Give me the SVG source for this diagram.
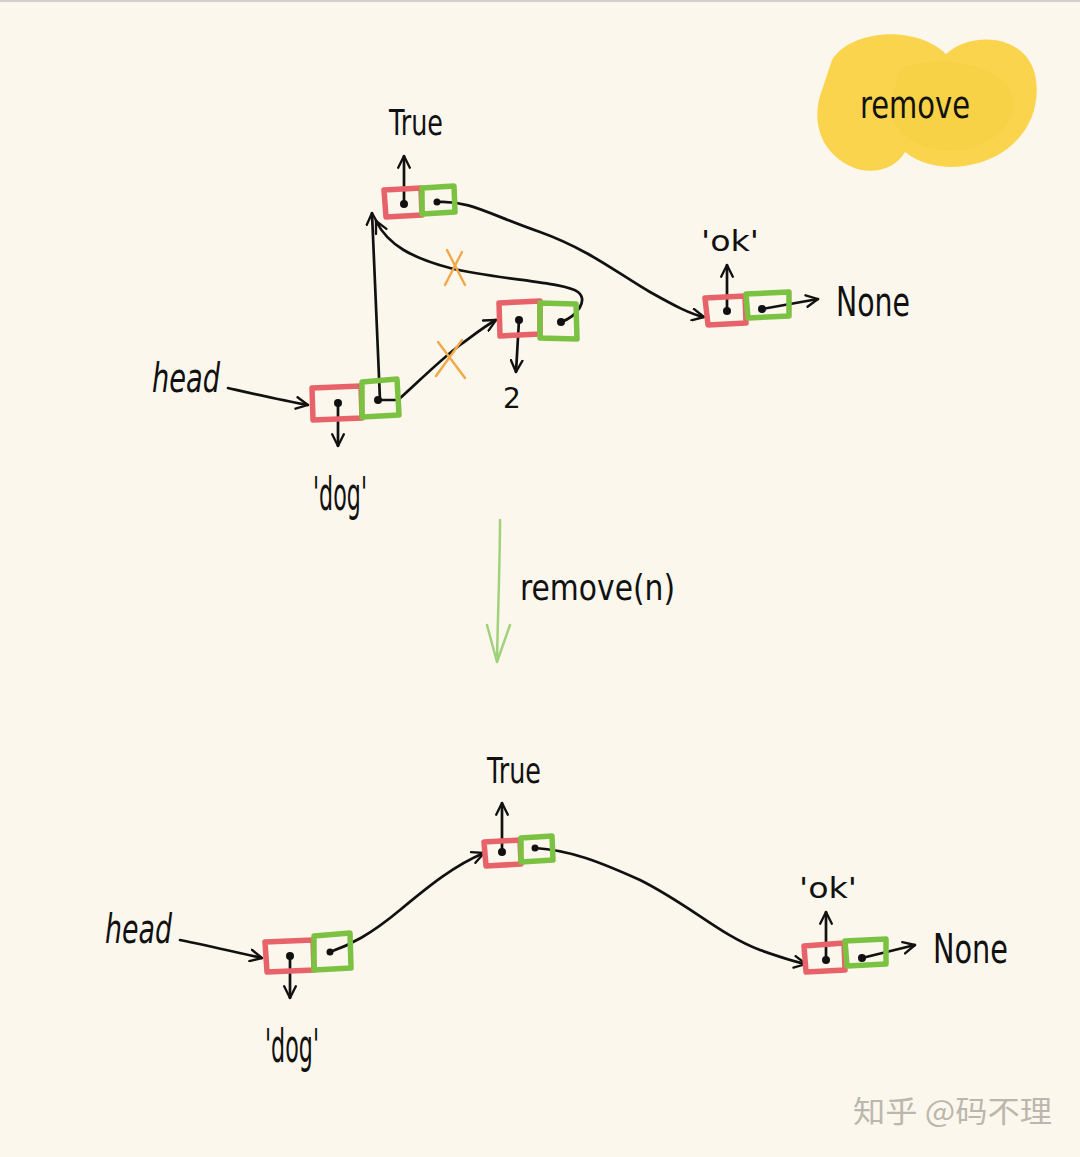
<svg xmlns="http://www.w3.org/2000/svg" width="1080" height="1157" viewBox="0 0 1080 1157">
<defs>
<marker id="arr" viewBox="0 0 12 12" refX="11" refY="6" markerWidth="14" markerHeight="14" orient="auto" markerUnits="userSpaceOnUse">
<path d="M1,1 L11,6 L1,11" fill="none" stroke="#111" stroke-width="2" stroke-linecap="round" stroke-linejoin="round"/>
</marker>
<style>
.bg{fill:#fcf7ed}
.red{fill:none;stroke:#e8626a;stroke-width:5.5;stroke-linejoin:round}
.grn{fill:none;stroke:#7cc242;stroke-width:5.5;stroke-linejoin:round}
.ln{fill:none;stroke:#111;stroke-width:2.7;stroke-linecap:round;stroke-linejoin:round}
.arr{marker-end:url(#arr)}
.dot{fill:#111}
.x{stroke:#f0a848;stroke-width:2.4;stroke-linecap:round}
.t{font-family:"DejaVu Sans","Liberation Sans",sans-serif;fill:#111}
.wm{font-family:"Noto Sans CJK SC","Noto Sans",sans-serif;fill:#bcb7ae}
</style>
</defs>
<rect class="bg" x="0" y="0" width="1080" height="1157"/>
<rect x="0" y="0" width="1080" height="2" fill="#cfcfcf"/>

<g id="title">
<path d="M832,60 C850,30 915,24 946,54 C972,30 1030,34 1036,80 C1042,122 1012,160 964,166 C935,170 915,160 905,152 C895,170 870,176 850,166 C822,152 812,125 820,96 Z" fill="#f9d44c"/>
<path d="M900,70 C930,55 990,60 1010,90 C1025,120 990,150 950,150 C915,150 890,130 890,105 Z" fill="#f6ce40" opacity="0.5"/>
<text class="t" x="860" y="118" font-size="38" textLength="110" lengthAdjust="spacingAndGlyphs">remove</text>
</g>

<g id="connectors">
<!-- top -->
<path class="ln arr" d="M228,388 C250,393 280,400 308,405"/>
<path class="ln arr" d="M437,202 C470,200 490,215 540,232 C590,250 620,275 650,292 C675,306 690,314 704,317"/>
<path class="ln arr" d="M380,400 L372,213"/>
<path class="ln arr" d="M561,322 C578,316 588,300 578,292 C565,282 500,280 450,268 C412,258 388,245 376,221"/>
<path class="ln arr" d="M378,400 L398,400 C415,385 440,360 460,345 C475,334 485,326 496,320"/>
<path class="ln arr" d="M404,204 L404,156"/>
<path class="ln arr" d="M338,403 L338,446"/>
<path class="ln arr" d="M519,320 L516,372"/>
<path class="ln arr" d="M727,311 L727,265"/>
<path class="ln arr" d="M762,309 L818,299"/>
<line class="x" x1="438" y1="342" x2="465" y2="378"/>
<line class="x" x1="462" y1="340" x2="436" y2="376"/>
<line class="x" x1="447" y1="250" x2="465" y2="285"/>
<line class="x" x1="462" y1="252" x2="445" y2="285"/>
<!-- middle -->
<path d="M500,520 C500,560 498,610 497,660 M487,625 L497,662 L510,625" fill="none" stroke="#9fd27a" stroke-width="2.5" stroke-linecap="round" stroke-linejoin="round"/>
<!-- bottom -->
<path class="ln arr" d="M180,940 C205,945 235,952 262,958"/>
<path class="ln arr" d="M330,952 C350,945 370,935 400,910 C430,885 455,865 484,853"/>
<path class="ln arr" d="M535,848 C570,850 600,862 640,880 C690,905 720,935 760,950 C780,957 795,962 806,964"/>
<path class="ln arr" d="M502,852 L502,803"/>
<path class="ln arr" d="M290,956 L290,998"/>
<path class="ln arr" d="M826,960 L826,912"/>
<path class="ln arr" d="M862,958 L915,945"/>
</g>

<text class="t" x="520" y="600" font-size="36" textLength="155" lengthAdjust="spacingAndGlyphs">remove(n)</text>

<!-- top nodes -->
<g id="head-top"><text class="t" x="152" y="392" font-size="40" textLength="68" lengthAdjust="spacingAndGlyphs" font-style="italic">head</text></g>
<g id="node-dog-top">
<path class="red" d="M312,388 L361,386 L362,418 L313,420 Z"/>
<path class="grn" d="M362,382 L397,379 L399,415 L362,417 Z"/>
<circle class="dot" cx="338" cy="403" r="4"/><circle class="dot" cx="378" cy="400" r="4"/>
<text class="t" x="340" y="510" font-size="46" text-anchor="middle" textLength="54" lengthAdjust="spacingAndGlyphs">'dog'</text>
</g>
<g id="node-true-top">
<path class="red" d="M384,190 L421,188 L422,215 L386,217 Z"/>
<path class="grn" d="M422,188 L454,186 L455,212 L422,214 Z"/>
<circle class="dot" cx="404" cy="204" r="4"/><circle class="dot" cx="437" cy="202" r="3.5"/>
<text class="t" x="416" y="135" font-size="36" text-anchor="middle" textLength="54" lengthAdjust="spacingAndGlyphs">True</text>
</g>
<g id="node-2-top">
<path class="red" d="M499,303 L540,301 L540,334 L500,336 Z"/>
<path class="grn" d="M540,303 L576,304 L577,339 L540,338 Z"/>
<circle class="dot" cx="519" cy="320" r="4"/><circle class="dot" cx="561" cy="322" r="4"/>
<text class="t" x="512" y="408" font-size="28" text-anchor="middle">2</text>
</g>
<g id="node-ok-top">
<path class="red" d="M705,298 L745,296 L746,323 L708,325 Z"/>
<path class="grn" d="M746,294 L789,292 L789,316 L748,318 Z"/>
<circle class="dot" cx="727" cy="311" r="4"/><circle class="dot" cx="762" cy="309" r="4"/>
<text class="t" x="730" y="251" font-size="28" text-anchor="middle" textLength="58" lengthAdjust="spacingAndGlyphs">'ok'</text>
<text class="t" x="836" y="316" font-size="40" textLength="74" lengthAdjust="spacingAndGlyphs">None</text>
</g>

<!-- bottom nodes -->
<g id="head-bottom"><text class="t" x="105" y="943" font-size="40" textLength="67" lengthAdjust="spacingAndGlyphs" font-style="italic">head</text></g>
<g id="node-dog-bottom">
<path class="red" d="M265,942 L313,940 L314,970 L267,972 Z"/>
<path class="grn" d="M314,936 L350,933 L351,968 L314,970 Z"/>
<circle class="dot" cx="290" cy="956" r="4"/><circle class="dot" cx="330" cy="952" r="3.5"/>
<text class="t" x="292" y="1062" font-size="46" text-anchor="middle" textLength="54" lengthAdjust="spacingAndGlyphs">'dog'</text>
</g>
<g id="node-true-bottom">
<path class="red" d="M484,842 L520,840 L521,864 L486,866 Z"/>
<path class="grn" d="M521,838 L552,836 L553,860 L521,862 Z"/>
<circle class="dot" cx="502" cy="852" r="4"/><circle class="dot" cx="535" cy="848" r="3.5"/>
<text class="t" x="514" y="783" font-size="36" text-anchor="middle" textLength="54" lengthAdjust="spacingAndGlyphs">True</text>
</g>
<g id="node-ok-bottom">
<path class="red" d="M804,946 L844,943 L845,970 L806,972 Z"/>
<path class="grn" d="M845,941 L886,939 L886,964 L847,966 Z"/>
<circle class="dot" cx="826" cy="960" r="4"/><circle class="dot" cx="862" cy="958" r="4"/>
<text class="t" x="828" y="898" font-size="28" text-anchor="middle" textLength="58" lengthAdjust="spacingAndGlyphs">'ok'</text>
<text class="t" x="933" y="963" font-size="40" textLength="75" lengthAdjust="spacingAndGlyphs">None</text>
</g>

<text class="wm" x="853" y="1122" font-size="30" textLength="199" lengthAdjust="spacingAndGlyphs">知乎 @码不理</text>
</svg>
